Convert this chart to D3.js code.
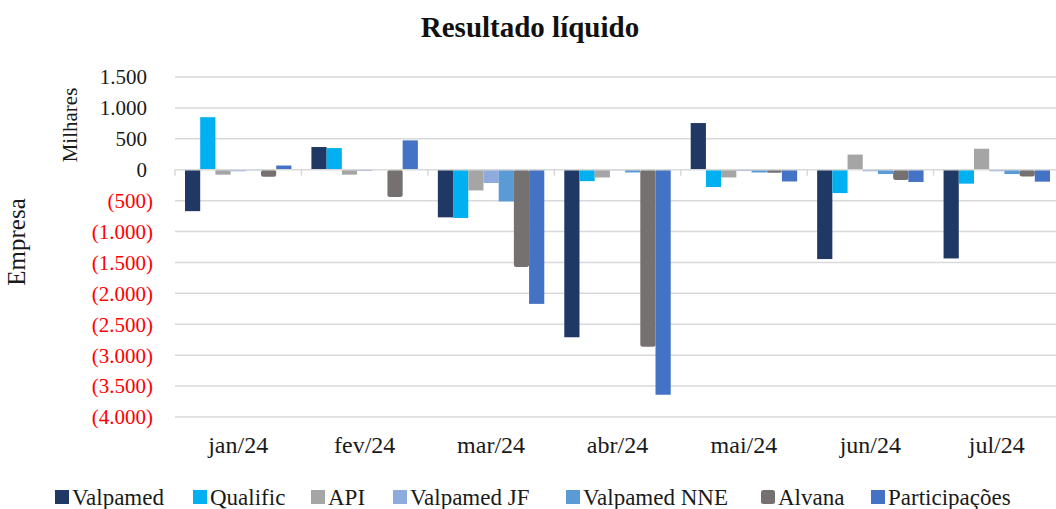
<!DOCTYPE html>
<html>
<head>
<meta charset="utf-8">
<script src="https://cdn.jsdelivr.net/npm/d3@7"></script>
<style>
  html, body { margin: 0; padding: 0; background: #fff; }
  svg { display: block; }
</style>
</head>
<body>
<svg id="chart" width="1056" height="509" font-family="'Liberation Serif', 'DejaVu Serif', serif"></svg>
<script>
const categories = ["jan/24", "fev/24", "mar/24", "abr/24", "mai/24", "jun/24", "jul/24"];
const seriesNames = ["Valpamed", "Qualific", "API", "Valpamed JF", "Valpamed NNE", "Alvana", "Participações"];
const valpamed      = [-670, 367, -770, -2710, 755, -1445, -1435];
const qualific      = [850, 350, -780, -185, -280, -378, -225];
const api           = [-80, -80, -335, -125, -125, 245, 340];
const valpamedJF    = [-25, -20, -215, -10, -20, -25, -25];
const valpamedNNE   = [-10, -5, -513, -45, -45, -70, -70];
const alvana        = [-115, -440, -1572, -2862, -50, -165, -108];
const participacoes = [68, 475, -2170, -3640, -190, -198, -193];
const yTicks = [1500, 1000, 500, 0, -500, -1000, -1500, -2000, -2500, -3000, -3500, -4000];
const colors = ["#1f3864", "#00b0f0", "#a5a5a5", "#8faadc", "#5b9bd5", "#767171", "#4472c4"];

const seriesValues = [valpamed, qualific, api, valpamedJF, valpamedNNE, alvana, participacoes];
const FONT = "'Liberation Serif', 'DejaVu Serif', serif";

const svg = d3.select("#chart");
const plotLeft = 175, plotRight = 1060, plotTop = 77, plotBottom = 417;

const x0 = d3.scaleBand().domain(categories).range([plotLeft, plotRight]).paddingInner(0).paddingOuter(0);
const x1 = d3.scaleBand().domain(seriesNames).range([10, x0.bandwidth() - 10]).padding(0);
const y = d3.scaleLinear().domain([-4000, 1500]).range([plotBottom, plotTop]);

const fmt = v => {
  const s = d3.format(",")(Math.abs(v)).replace(/,/g, ".");
  return v < 0 ? "(" + s + ")" : s;
};

// gridlines
svg.append("g").selectAll("line").data(yTicks.filter(t => t !== 0)).join("line")
  .attr("x1", plotLeft).attr("x2", plotRight)
  .attr("y1", d => y(d)).attr("y2", d => y(d))
  .attr("stroke", "#d9d9d9").attr("stroke-width", 1.5);

// y labels (positives leave room for the closing parenthesis, like "_)" in Excel)
svg.append("g").selectAll("text").data(yTicks).join("text")
  .attr("font-family", FONT)
  .attr("x", d => d < 0 ? 153 : 147).attr("y", d => y(d))
  .attr("dy", "0.35em")
  .attr("text-anchor", "end")
  .attr("font-size", 21)
  .attr("fill", d => d < 0 ? "#ff0000" : "#1a1a1a")
  .text(fmt);

// bars
const rows = [];
seriesNames.forEach((s, si) => {
  categories.forEach((c, ci) => rows.push({ s, si, c, v: seriesValues[si][ci] }));
});
svg.append("g").selectAll("rect").data(rows).join("rect")
  .attr("x", d => x0(d.c) + x1(d.s))
  .attr("width", x1.bandwidth())
  .attr("y", d => y(Math.max(0, d.v)))
  .attr("height", d => Math.abs(y(d.v) - y(0)))
  .attr("rx", d => d.s === "Alvana" ? 2.5 : 0)
  .attr("fill", d => colors[d.si]);

// zero axis line + ticks
const axis = svg.append("g").attr("transform", `translate(0,${y(0)})`);
axis.append("line").attr("x1", plotLeft).attr("x2", plotRight).attr("y1", 0).attr("y2", 0)
  .attr("stroke", "#d9d9d9").attr("stroke-width", 1.5);
axis.selectAll("line.tick").data(d3.range(categories.length + 1)).join("line")
  .attr("class", "tick")
  .attr("x1", i => plotLeft + i * x0.bandwidth()).attr("x2", i => plotLeft + i * x0.bandwidth())
  .attr("y1", 0).attr("y2", 6)
  .attr("stroke", "#d9d9d9").attr("stroke-width", 1.5);

// x labels
svg.append("g").selectAll("text").data(categories).join("text")
  .attr("font-family", FONT)
  .attr("x", d => x0(d) + x0.bandwidth() / 2)
  .attr("y", 445).attr("dy", "0.35em")
  .attr("text-anchor", "middle")
  .attr("font-size", 24)
  .attr("fill", "#1a1a1a")
  .text(d => d);

// title
svg.append("text").attr("font-family", FONT).attr("x", 530).attr("y", 37)
  .attr("text-anchor", "middle").attr("font-size", 29).attr("font-weight", "bold")
  .attr("fill", "#111").text("Resultado líquido");

// axis titles
svg.append("text").attr("font-family", FONT).attr("transform", "translate(77,125) rotate(-90)")
  .attr("text-anchor", "middle").attr("font-size", 21).attr("fill", "#1a1a1a").text("Milhares");
svg.append("text").attr("font-family", FONT).attr("transform", "translate(25,242) rotate(-90)")
  .attr("text-anchor", "middle").attr("font-size", 25).attr("fill", "#1a1a1a").text("Empresa");

// legend
const legendX = [55, 193, 311, 393, 566, 761, 871];
const lg = svg.append("g").selectAll("g").data(seriesNames).join("g")
  .attr("transform", (d, i) => `translate(${legendX[i]},497)`);
lg.append("rect").attr("x", 0).attr("y", -7).attr("width", 14).attr("height", 14)
  .attr("rx", d => d === "Alvana" ? 2.5 : 0)
  .attr("fill", (d, i) => colors[i]);
lg.append("text").attr("font-family", FONT).attr("x", 17).attr("y", 0).attr("dy", "0.35em")
  .attr("font-size", 23).attr("fill", "#1a1a1a").text(d => d);
</script>
</body>
</html>
